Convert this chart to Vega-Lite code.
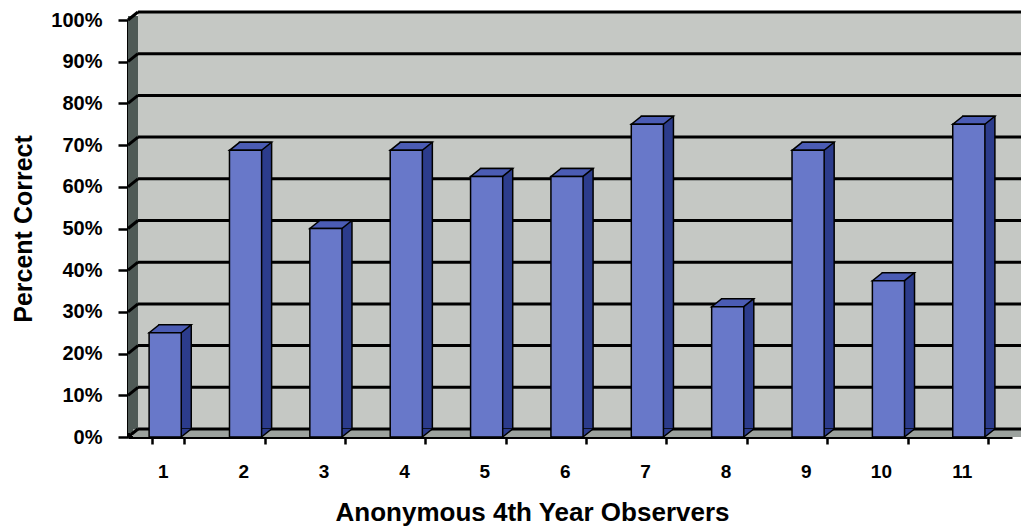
{
  "$schema": "https://vega.github.io/schema/vega-lite/v6.json",
  "width": 884,
  "height": 417,
  "autosize": {"type": "none"},
  "padding": {"left": 128, "top": 20, "right": 9, "bottom": 94},
  "background": "white",
  "config": {
    "view": {"stroke": null},
    "font": "Liberation Sans",
    "axis": {
      "labelFont": "Liberation Sans",
      "labelFontWeight": "bold",
      "labelColor": "black",
      "titleFont": "Liberation Sans",
      "titleFontWeight": "bold",
      "titleColor": "black",
      "domainColor": "black",
      "tickColor": "black",
      "zindex": 1
    }
  },
  "datasets": {
    "scores": [
      {"observer": "1", "pct": 25},
      {"observer": "2", "pct": 68.75},
      {"observer": "3", "pct": 50},
      {"observer": "4", "pct": 68.75},
      {"observer": "5", "pct": 62.5},
      {"observer": "6", "pct": 62.5},
      {"observer": "7", "pct": 75},
      {"observer": "8", "pct": 31.25},
      {"observer": "9", "pct": 68.75},
      {"observer": "10", "pct": 37.5},
      {"observer": "11", "pct": 75}
    ],
    "levels": [
      {"level": 0}, {"level": 10}, {"level": 20}, {"level": 30}, {"level": 40},
      {"level": 50}, {"level": 60}, {"level": 70}, {"level": 80}, {"level": 90},
      {"level": 100}
    ],
    "frame": [{"low": 0, "high": 100}]
  },
  "data": {"name": "scores"},
  "layer": [
    {
      "data": {"name": "frame"},
      "mark": {"type": "rect", "fill": "#4f5a56", "yOffset": -4, "y2Offset": -4},
      "encoding": {
        "x": {"value": 0},
        "x2": {"value": "width"},
        "y": {
          "field": "low",
          "type": "quantitative",
          "scale": {"domain": [0, 100], "nice": false},
          "axis": {
            "title": "Percent Correct",
            "values": [0, 10, 20, 30, 40, 50, 60, 70, 80, 90, 100],
            "labelExpr": "datum.value + '%'",
            "grid": false,
            "labelFontSize": 20,
            "labelPadding": 16,
            "tickSize": 10,
            "tickWidth": 2.5,
            "domainWidth": 3,
            "titleFontSize": 25,
            "titlePadding": 14
          }
        },
        "y2": {"field": "high"}
      }
    },
    {
      "data": {"name": "frame"},
      "mark": {"type": "rect", "fill": "#9ca29e", "xOffset": 5, "x2Offset": 10, "y2Offset": -8},
      "encoding": {
        "x": {"value": 0},
        "x2": {"value": "width"},
        "y": {"field": "low", "type": "quantitative", "title": "Percent Correct"},
        "y2": {"field": "low"}
      }
    },
    {
      "data": {"name": "frame"},
      "mark": {"type": "rect", "fill": "#c5c8c4", "xOffset": 10, "x2Offset": 10, "yOffset": -8, "y2Offset": -8},
      "encoding": {
        "x": {"value": 0},
        "x2": {"value": "width"},
        "y": {"field": "low", "type": "quantitative", "title": "Percent Correct"},
        "y2": {"field": "high"}
      }
    },
    {
      "data": {"name": "levels"},
      "mark": {"type": "rule", "color": "black", "strokeWidth": 3, "xOffset": 10, "x2Offset": 10, "yOffset": -8},
      "encoding": {
        "x": {"value": 0},
        "x2": {"value": "width"},
        "y": {"field": "level", "type": "quantitative", "title": "Percent Correct"}
      }
    },
    {
      "data": {"name": "levels"},
      "mark": {"type": "point", "filled": false, "shape": "M -2.5125 0 L -1.8875 -0.5", "size": 1024, "stroke": "black", "strokeWidth": 3, "opacity": 1},
      "encoding": {
        "x": {"datum": "1", "type": "nominal", "title": "Anonymous 4th Year Observers"},
        "y": {"field": "level", "type": "quantitative", "title": "Percent Correct"}
      }
    },
    {
      "mark": {"type": "bar", "fill": "#2c3c8c", "stroke": "black", "strokeWidth": 1.5, "xOffset": 7, "yOffset": -8, "y2Offset": -8},
      "encoding": {
        "x": {"field": "observer", "type": "nominal", "sort": null, "title": "Anonymous 4th Year Observers"},
        "y": {"field": "pct", "type": "quantitative", "title": "Percent Correct"}
      }
    },
    {
      "mark": {"type": "point", "filled": true, "shape": "M 1 0 L 1.625 -0.5 L 1 -0.5 Z", "size": 1024, "fill": "#2c3c8c", "opacity": 1, "xOffset": -3},
      "encoding": {
        "x": {"field": "observer", "type": "nominal", "sort": null, "title": "Anonymous 4th Year Observers"},
        "y": {"datum": 0, "type": "quantitative", "title": "Percent Correct"}
      }
    },
    {
      "mark": {"type": "point", "filled": false, "shape": "M 1 0 L 1.625 -0.5", "size": 1024, "stroke": "black", "strokeWidth": 1.5, "opacity": 1, "xOffset": -3},
      "encoding": {
        "x": {"field": "observer", "type": "nominal", "sort": null, "title": "Anonymous 4th Year Observers"},
        "y": {"datum": 0, "type": "quantitative", "title": "Percent Correct"}
      }
    },
    {
      "mark": {"type": "point", "filled": true, "shape": "M -1 0 L 1 0 L 1.625 -0.5 L -0.375 -0.5 Z", "size": 1024, "fill": "#4b5cb4", "stroke": "black", "strokeWidth": 1.5, "opacity": 1, "xOffset": -3},
      "encoding": {
        "x": {"field": "observer", "type": "nominal", "sort": null, "title": "Anonymous 4th Year Observers"},
        "y": {"field": "pct", "type": "quantitative", "title": "Percent Correct"}
      }
    },
    {
      "mark": {"type": "bar", "fill": "#6878c9", "stroke": "black", "strokeWidth": 1.5, "xOffset": -3},
      "encoding": {
        "x": {
          "field": "observer",
          "type": "nominal",
          "sort": null,
          "scale": {"paddingInner": 0.6, "paddingOuter": 0.3},
          "axis": {
            "title": "Anonymous 4th Year Observers",
            "labelAngle": 0,
            "labelFontSize": 19,
            "labelPadding": 27,
            "tickBand": "extent",
            "tickSize": 7,
            "tickWidth": 2.5,
            "domainWidth": 3,
            "titleFontSize": 26,
            "titlePadding": 18,
            "titleX": 404,
            "titleAnchor": null,
            "titleAlign": "center"
          }
        },
        "y": {"field": "pct", "type": "quantitative", "title": "Percent Correct"}
      }
    }
  ]
}
